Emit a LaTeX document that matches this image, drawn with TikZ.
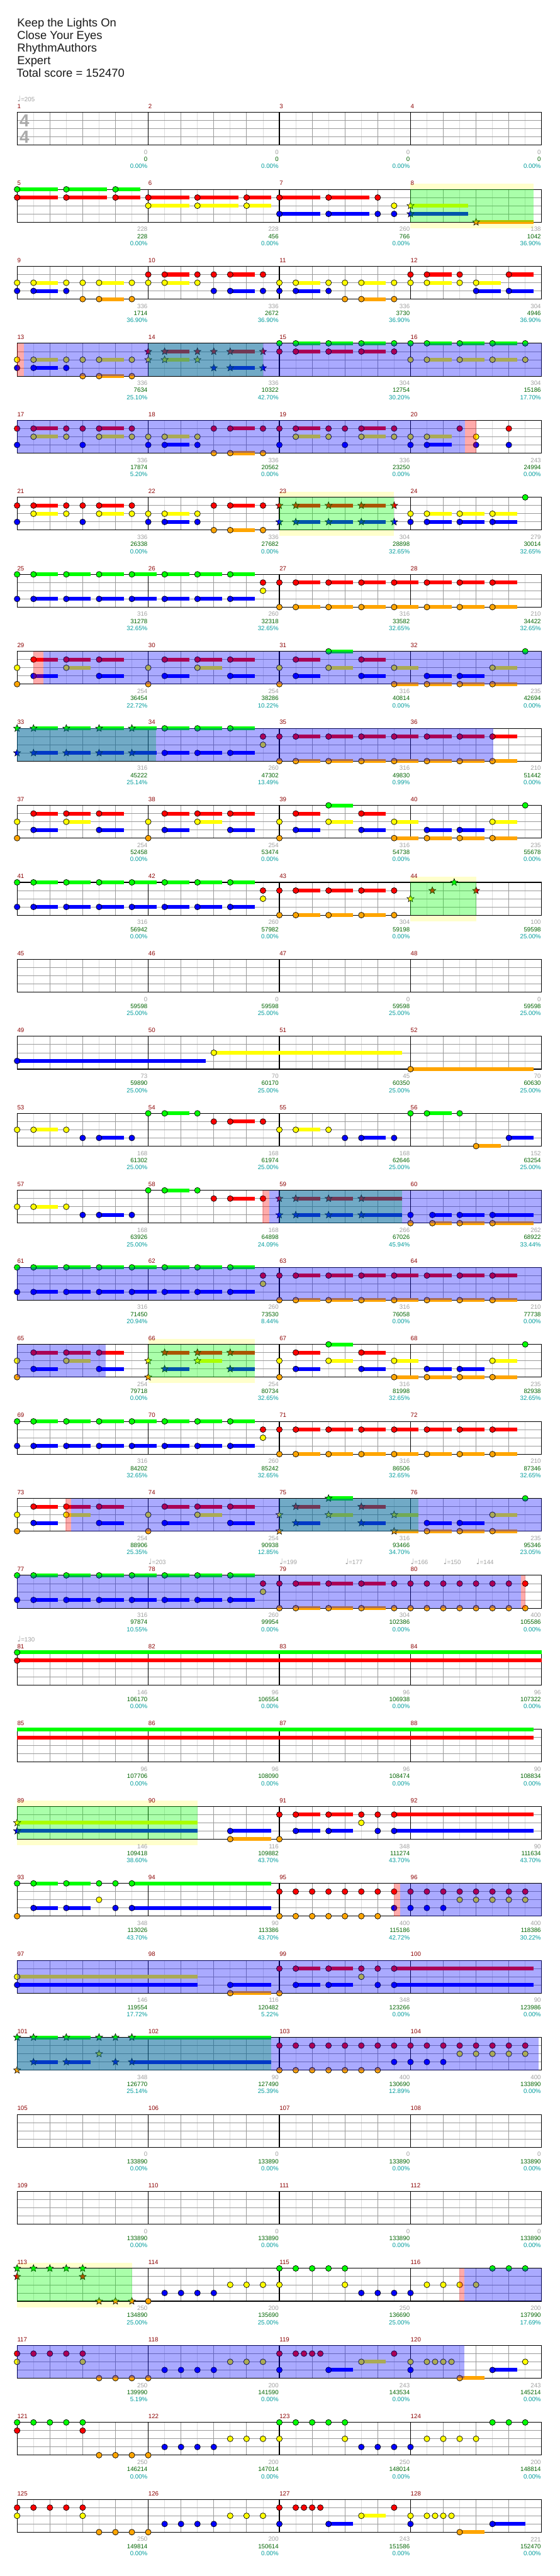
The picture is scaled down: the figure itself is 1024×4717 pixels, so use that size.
\documentclass[tikz,border=0pt]{standalone}
\usepackage{fontspec}
\setmainfont{Liberation Sans}
\newfontfamily\symfont{DejaVu Sans}
\usetikzlibrary{shapes.geometric}

\definecolor{cG}{HTML}{00FF00}
\definecolor{cR}{HTML}{FF0000}
\definecolor{cY}{HTML}{FFFF00}
\definecolor{cB}{HTML}{0000FF}
\definecolor{cO}{HTML}{FFA500}
\definecolor{mred}{HTML}{8B0000}
\definecolor{sgray}{HTML}{A0A0A0}
\definecolor{sgreen}{HTML}{006400}
\definecolor{steal}{HTML}{009C9C}
\definecolor{liteg}{HTML}{DCDCDC}
\definecolor{midg}{HTML}{9A9A9A}
\definecolor{bandy}{HTML}{FFFFCC}
\definecolor{sigg}{HTML}{AAAAAA}

\newcommand\labf{\fontsize{5.6}{6}\selectfont}
\def\lG{0}\def\lR{1}\def\lY{2}\def\lB{3}\def\lO{4}

%% row top, star range
\newcommand\rowtop[3]{\def\rowN{#1}\pgfmathsetmacro\rowT{205.7+141*(#1-1)}\def\stA{#2}\def\stB{#3}}

\newcommand\staff{%
  \fill[white] (31.3,\rowT) rectangle (991.3,{\rowT+60});
  \foreach \e in {1,3,...,31} \draw[lite] ({31.3+30*\e},\rowT) -- ++(0,60);
  \foreach \e in {2,4,6,10,12,14,18,20,22,26,28,30} \draw[beat] ({31.3+30*\e},\rowT) -- ++(0,60);
  \foreach \l in {1,2,3} \draw[beat] (31.3,{\rowT+15*\l}) -- (991.3,{\rowT+15*\l});
  \foreach \e in {8,16,24} \draw[barline] ({31.3+30*\e},\rowT) -- ++(0,60);
  \draw[barline] (31.3,\rowT) rectangle (991.3,{\rowT+60});}

\newcommand\sus[2]{\foreach \e/\sL in {#2}
  \fill[c#1] ({31.3+30*\e},{\rowT+15*\csname l#1\endcsname-3.5}) rectangle ++({30*\sL},7);}

\newcommand\nts[2]{\foreach \e in {#2}{%
  \pgfmathtruncatemacro\isst{and(\e>\stA-0.02,\e<\stB+0.02)}%
  \ifnum\isst=1
    \node[starnote,fill=c#1] at ({31.3+30*\e},{\rowT+15*\csname l#1\endcsname}) {};
  \else
    \node[note,fill=c#1] at ({31.3+30*\e},{\rowT+15*\csname l#1\endcsname}) {};
  \fi}}

\newcommand\band[2]{\fill[bandy] ({31.3+30*#1},{\rowT-10.5}) rectangle ({31.3+30*#2},{\rowT+71});}
\newcommand\phr[2]{\fill[cG,opacity=0.333] ({31.3+30*#1},\rowT) rectangle ({31.3+30*#2},{\rowT+60});}
\newcommand\spr[2]{\fill[cB,opacity=0.333] ({31.3+30*#1},\rowT) rectangle ({31.3+30*#2},{\rowT+60});}
\newcommand\pnk[2]{\fill[cR,opacity=0.333] ({31.3+30*#1},\rowT) rectangle ({31.3+30*#2},{\rowT+60});}

\newcommand\tempo[2]{\node[tmp] at ({31.3+30*#1},{\rowT-25}) {{\symfont\fontsize{7}{7}\selectfont ♩}=#2};}

\newcommand\mlabels[1]{\foreach \va/\vb/\vc [count=\mj from 0] in {#1}{%
  \pgfmathtruncatemacro\mnr{4*\rowN-3+\mj}%
  \node[mnum] (m\mnr) at ({31.3+240*\mj},{\rowT-11}) {\mnr};
  \node[sco] (s\mnr) at ({270.3+240*\mj},{\rowT+73}) {\va};
  \node[tot] (t\mnr) at ({270.3+240*\mj},{\rowT+86}) {\vb};
  \node[pct] (p\mnr) at ({270.3+240*\mj},{\rowT+99}) {\vc\%};}}

%% repeated note patterns
\newcommand\patP{%
  \sus{G}{19/1.5}
  \sus{R}{1/1.5,3/1.5,5/1.5,9/1.5,11/1.5,13/1.5,17/1.5,21/1.5}
  \sus{Y}{3/1.5,11/1.5,19/1.5,23/1.5,29/1.5}
  \sus{B}{1/1.5,5/1.5,9/1.5,13/1.5,17/1.5,21/1.5,25/1.5,27/1.5}
  \sus{O}{23/1.5,25/1.5,27/1.5,29/1.5}
  \nts{G}{19,31}
  \nts{R}{1,3,5,9,11,13,17,21}
  \nts{Y}{0,3,8,11,16,19,23,29}
  \nts{B}{1,5,9,13,17,21,25,27}
  \nts{O}{0,8,16,23,25,27,29}}
\newcommand\patQa{%
  \sus{G}{1/1.5,3/1.5,5/1.5,7/1.5,9/1.5,11/1.5,13/1.5}
  \sus{B}{1/1.5,3/1.5,5/1.5,7/1.5,9/1.5,11/1.5,13/1.5}
  \nts{G}{0,1,3,5,7,9,11,13}
  \nts{B}{0,1,3,5,7,9,11,13}
  \nts{R}{15}\nts{Y}{15}}
\newcommand\patQb{%
  \sus{R}{17/1.5,19/1.5,21/1.5,23/1.5,25/1.5,27/1.5,29/1.5}
  \sus{O}{17/1.5,19/1.5,21/1.5,23/1.5,25/1.5,27/1.5,29/1.5}
  \nts{R}{16,17,19,21,23,25,27,29}
  \nts{O}{16,17,19,21,23,25,27,29}}
\newcommand\patS{%
  \sus{Y}{0/11}
  \sus{B}{0/11,13/2.5,17/1.5,19/1.5,23/8.5}
  \sus{O}{13/2.5}
  \sus{R}{17/1.5,19/1.5,23/8.5}
  \nts{Y}{0,21}
  \nts{B}{0,13,17,19,22,23}
  \nts{O}{13,16}
  \nts{R}{16,17,19,21,22,23}}
\newcommand\patT{%
  \sus{G}{1/1.5,3/1.5,7/8.5}
  \sus{B}{1/1.5,3/1.5,7/8.5}
  \nts{G}{0,1,3,5,6,7}
  \nts{Y}{5,27,28,29,30,31}
  \nts{B}{1,3,6,7,23,24,25,26}
  \nts{O}{0,16,17,18,19,20,21,22}
  \nts{R}{16,17,18,19,20,21,22,23,24,25,26,27,28,29,30,31}}
\newcommand\patU{%
  \nts{G}{0,1,2,3,4,16,17,18,19,20,29,30,31}
  \nts{R}{0,4}
  \nts{O}{5,6,7,8}
  \nts{B}{9,10,11,12,21,22,23,24}
  \nts{Y}{13,14,15,16,20,25,26,27,28}}
\newcommand\patV[1]{%
  \sus{B}{19/1.5,29/#1}
  \sus{Y}{21/1.5}
  \sus{O}{27/1.5}
  \nts{R}{0,1,2,3,4,16,17,17.5,18,18.5,23}
  \nts{Y}{0,4,13,14,15,21,24,25,25.5,26,26.5}
  \nts{O}{5,6,7,8,27}
  \nts{B}{9,10,11,12,16,19,24,29}}

\begin{document}
\begin{tikzpicture}[
  x=0.5pt, y=-0.5pt,
  note/.style={circle, draw=black, line width=0.4pt, inner sep=0pt, minimum size=5.3pt},
  starnote/.style={star, star points=5, star point ratio=2.3, draw=black,
    line width=0.35pt, inner sep=0pt, minimum size=6.8pt},
  lite/.style={liteg, line width=0.5pt},
  beat/.style={midg, line width=0.5pt},
  barline/.style={black, line width=0.6pt},
  mnum/.style={anchor=west, inner sep=0pt, text=mred, font=\labf},
  sco/.style={anchor=east, inner sep=0pt, text=sgray, font=\labf},
  tot/.style={anchor=east, inner sep=0pt, text=sgreen, font=\labf},
  pct/.style={anchor=east, inner sep=0pt, text=steal, font=\labf},
  tmp/.style={anchor=west, inner sep=0pt, text=sgray, font=\labf},
  tsig/.style={inner sep=0pt, text=sigg, font=\fontsize{16}{16}\selectfont\bfseries},
  ttl/.style={anchor=base west, inner sep=0pt, text=black!90, font=\fontsize{10.6}{12}\selectfont},
]
\useasboundingbox (0,0) rectangle (1024,4717);
\fill[white] (0,0) rectangle (1024,4717);

%% Song header
\node[ttl] (song)   at (31,49.3)  {Keep the Lights On};
\node[ttl] (artist) at (31,72.3)  {Close Your Eyes};
\node[ttl] (chart)  at (31,95.3)  {RhythmAuthors};
\node[ttl] (diff)   at (31,118.3) {Expert};
\node[ttl] (total)  at (30,141.3) {Total score = 152470};

%% Row 1: measures 1-4
\rowtop{1}{-9}{-9}
\staff
\node[tsig] (sigtop) at (44.7,220.8) {4};
\node[tsig] (sigbot) at (44.7,250.5) {4};
\tempo{0}{205}
\mlabels{0/0/0.00,0/0/0.00,0/0/0.00,0/0/0.00}

%% Row 2: measures 5-8
\rowtop{2}{24}{31.5}
\band{24}{31.5}
\staff
\sus{G}{0/2.5,3/2.5,6/1.5}
\sus{R}{0/2.5,3/2.5,6/1.5,8/2.5,11/2.5,14/1.5,16/2.5,19/2.5}
\sus{Y}{8/2.5,11/2.5,14/1.5,24/3.5}
\sus{B}{16/2.5,19/2.5,24/3.5}
\sus{O}{28/3.5}
\nts{G}{0,3,6}
\nts{R}{0,3,6,8,11,14,16,19,22}
\nts{Y}{8,11,14,23,24}
\nts{B}{16,19,22,23,24}
\nts{O}{28}
\phr{24}{31.5}
\mlabels{228/228/0.00,228/456/0.00,260/766/0.00,138/1042/36.90}

%% Row 3: measures 9-12
\rowtop{3}{-9}{-9}
\staff
\sus{R}{9/1.5,13/1.5,25/1.5,30/1.5}
\sus{Y}{1/1.5,5/1.5,9/1.5,17/1.5,21/1.5,25/1.5,28/1.5}
\sus{B}{1/1.5,13/1.5,17/1.5,28/1.5,30/1.5}
\sus{O}{5/1.5,21/1.5}
\nts{R}{8,9,11,12,13,15,24,25,27,30}
\nts{Y}{0,1,3,4,5,7,8,9,11,16,17,19,20,21,23,24,25,27,28}
\nts{B}{0,1,3,12,13,15,16,17,19,28,30}
\nts{O}{4,5,7,20,21,23}
\mlabels{336/1714/36.90,336/2672/36.90,336/3730/36.90,304/4946/36.90}

%% Row 4: measures 13-16
\rowtop{4}{8}{15}
\staff
\sus{G}{17/1.5,19/1.5,21/1.5,25/1.5,27/1.5,29/1.5}
\sus{R}{9/1.5,13/1.5,17/1.5,19/1.5,21/1.5}
\sus{Y}{1/1.5,5/1.5,9/1.5,25/1.5,27/1.5,29/1.5}
\sus{B}{1/1.5,13/1.5}
\sus{O}{5/1.5}
\nts{G}{16,17,19,21,23,24,25,27,29,31}
\nts{R}{8,9,11,12,13,15,16,17,19,21,23}
\nts{Y}{0,1,3,4,5,7,8,9,11,24,25,27,29,31}
\nts{B}{0,1,3,12,13,15}
\nts{O}{4,5,7}
\phr{8}{15.01}
\spr{0.41}{32}
\pnk{0}{0.41}
\mlabels{336/7634/25.10,336/10322/42.70,304/12754/30.20,304/15186/17.70}

%% Row 5: measures 17-20
\rowtop{5}{-9}{-9}
\staff
\sus{R}{1/1.5,5/1.5,13/1.5,17/1.5,21/1.5}
\sus{Y}{1/1.5,5/1.5,9/1.5,17/1.5,21/1.5,25/1.5}
\sus{B}{9/1.5,25/1.5}
\sus{O}{13/1.5}
\nts{R}{0,1,3,4,5,7,12,13,15,16,17,19,20,21,23,27,30}
\nts{Y}{1,3,5,7,8,9,11,17,19,21,23,24,25,28}
\nts{B}{0,4,8,9,11,16,20,24,25,28,30}
\nts{O}{12,13,15}
\spr{0}{27.34}
\pnk{27.34}{28}
\mlabels{336/17874/5.20,336/20562/0.00,336/23250/0.00,243/24994/0.00}

%% Row 6: measures 21-24
\rowtop{6}{16}{23}
\band{16}{23}
\staff
\sus{R}{1/1.5,5/1.5,13/1.5,17/1.5,19/1.5,21/1.5}
\sus{Y}{1/1.5,5/1.5,9/1.5,25/1.5,27/1.5,29/1.5}
\sus{B}{9/1.5,17/1.5,19/1.5,21/1.5,25/1.5,27/1.5,29/1.5}
\sus{O}{13/1.5}
\nts{G}{31}
\nts{R}{0,1,3,4,5,7,12,13,15,16,17,19,21,23}
\nts{Y}{1,3,5,7,8,9,11,24,25,27,29}
\nts{B}{0,4,8,9,11,16,17,19,21,23,24,25,27,29}
\nts{O}{12,13,15}
\phr{16}{23}
\mlabels{336/26338/0.00,336/27682/0.00,304/28898/32.65,279/30014/32.65}

%% Row 7: measures 25-28
\rowtop{7}{-9}{-9}
\staff
\patQa
\patQb
\mlabels{316/31278/32.65,260/32318/32.65,316/33582/32.65,210/34422/32.65}

%% Row 8: measures 29-32
\rowtop{8}{-9}{-9}
\staff
\patP
\pnk{1}{1.61}
\spr{1.61}{32}
\mlabels{254/36454/22.72,254/38286/10.22,316/40814/0.00,235/42694/0.00}

%% Row 9: measures 33-36
\rowtop{9}{0}{8.47}
\staff
\patQa
\patQb
\phr{0}{8.47}
\spr{0}{29.06}
\mlabels{316/45222/25.14,260/47302/13.49,316/49830/0.99,210/51442/0.00}

%% Row 10: measures 37-40
\rowtop{10}{-9}{-9}
\staff
\patP
\mlabels{254/52458/0.00,254/53474/0.00,316/54738/0.00,235/55678/0.00}

%% Row 11: measures 41-44
\rowtop{11}{24}{28}
\band{24}{28}
\staff
\patQa
\sus{R}{17/1.5,19/1.5,21/1.5}
\sus{O}{17/1.5,19/1.5,21/1.5}
\nts{R}{16,17,19,21,23,25.333,28}
\nts{O}{16,17,19,21,23}
\nts{Y}{24}
\nts{G}{26.667}
\phr{24}{28}
\mlabels{316/56942/0.00,260/57982/0.00,304/59198/0.00,100/59598/25.00}

%% Row 12: measures 45-48
\rowtop{12}{-9}{-9}
\staff
\mlabels{0/59598/25.00,0/59598/25.00,0/59598/25.00,0/59598/25.00}

%% Row 13: measures 49-52
\rowtop{13}{-9}{-9}
\staff
\sus{B}{0/11.5}
\sus{Y}{12/11.5}
\sus{O}{24/7.5}
\nts{B}{0}
\nts{Y}{12}
\nts{O}{24}
\mlabels{73/59890/25.00,70/60170/25.00,45/60350/25.00,70/60630/25.00}

%% Row 14: measures 53-56
\rowtop{14}{-9}{-9}
\staff
\sus{Y}{1/1.5,17/1.5}
\sus{B}{5/1.5,21/1.5,30/1.5}
\sus{G}{9/1.5,25/1.5}
\sus{R}{13/1.5}
\sus{O}{28/1.5}
\nts{Y}{0,1,3,16,17,19}
\nts{B}{4,5,7,20,21,23,30}
\nts{G}{8,9,11,24,25,27}
\nts{R}{12,13,15}
\nts{O}{28}
\mlabels{168/61302/25.00,168/61974/25.00,168/62646/25.00,152/63254/25.00}

%% Row 15: measures 57-60
\rowtop{15}{16}{23.49}
\staff
\sus{Y}{1/1.5}
\sus{B}{5/1.5,17/1.5,19/1.5,21/2.5,25.333/1.167,27/1.5,29/2.5}
\sus{G}{9/1.5}
\sus{R}{13/1.5,17/1.5,19/1.5,21/2.5}
\sus{O}{25.333/1.167,27/1.5,29/2.5}
\nts{Y}{0,1,3}
\nts{B}{4,5,7,16,17,19,21,24,25.333,27,29}
\nts{G}{8,9,11}
\nts{R}{12,13,15,16,17,19,21}
\nts{O}{24,25.333,27,29}
\phr{16}{23.49}
\spr{15.39}{32}
\pnk{14.95}{15.39}
\mlabels{168/63926/25.00,168/64898/24.09,266/67026/45.94,262/68922/33.44}

%% Row 16: measures 61-64
\rowtop{16}{-9}{-9}
\staff
\patQa
\patQb
\spr{0}{32}
\mlabels{316/71450/20.94,260/73530/8.44,316/76058/0.00,210/77738/0.00}

%% Row 17: measures 65-68
\rowtop{17}{8}{14.5}
\band{8}{14.5}
\staff
\patP
\phr{8}{14.5}
\spr{0}{5.4}
\mlabels{254/79718/0.00,254/80734/32.65,316/81998/32.65,235/82938/32.65}

%% Row 18: measures 69-72
\rowtop{18}{-9}{-9}
\staff
\patQa
\patQb
\mlabels{316/84202/32.65,260/85242/32.65,316/86506/32.65,210/87346/32.65}

%% Row 19: measures 73-76
\rowtop{19}{16}{24.49}
\staff
\patP
\phr{16}{24.49}
\spr{3.29}{32}
\pnk{2.96}{3.29}
\mlabels{254/88906/25.35,254/90938/12.85,316/93466/34.70,235/95346/23.05}

%% Row 20: measures 77-80
\rowtop{20}{-9}{-9}
\staff
\patQa
\sus{R}{17/1.5,19/1.5,21/1.5}
\sus{O}{17/1.5,19/1.5,21/1.5}
\nts{R}{16,17,19,21,23,24,25,26,27,28,29,30,31}
\nts{O}{16,17,19,21,23,24,25,26,27,28,29,30,31}
\spr{0}{30.74}
\pnk{30.74}{31}
\tempo{8}{203}
\tempo{16}{199}
\tempo{20}{177}
\tempo{24}{166}
\tempo{26}{150}
\tempo{28}{144}
\mlabels{316/97874/10.55,260/99954/0.00,304/102386/0.00,400/105586/0.00}

%% Row 21: measures 81-84
\rowtop{21}{-9}{-9}
\staff
\sus{G}{0/32}
\sus{R}{0/32}
\nts{G}{0}
\nts{R}{0}
\tempo{0}{130}
\mlabels{146/106170/0.00,96/106554/0.00,96/106938/0.00,96/107322/0.00}

%% Row 22: measures 85-88
\rowtop{22}{-9}{-9}
\staff
\sus{G}{0/31.5}
\sus{R}{0/31.5}
\mlabels{96/107706/0.00,96/108090/0.00,96/108474/0.00,90/108834/0.00}

%% Row 23: measures 89-92
\rowtop{23}{0}{11}
\band{0}{11}
\staff
\patS
\phr{0}{11}
\mlabels{146/109418/38.60,116/109882/43.70,348/111274/43.70,90/111634/43.70}

%% Row 24: measures 93-96
\rowtop{24}{-9}{-9}
\staff
\patT
\pnk{22.99}{23.36}
\spr{23.36}{32}
\mlabels{348/113026/43.70,90/113386/43.70,400/115186/42.72,400/118386/30.22}

%% Row 25: measures 97-100
\rowtop{25}{-9}{-9}
\staff
\patS
\spr{0}{32}
\mlabels{146/119554/17.72,116/120482/5.22,348/123266/0.00,90/123986/0.00}

%% Row 26: measures 101-104
\rowtop{26}{0}{15.5}
\staff
\patT
\phr{0}{15.5}
\spr{0}{31.83}
\mlabels{348/126770/25.14,90/127490/25.39,400/130690/12.89,400/133890/0.00}

%% Row 27: measures 105-108
\rowtop{27}{-9}{-9}
\staff
\mlabels{0/133890/0.00,0/133890/0.00,0/133890/0.00,0/133890/0.00}

%% Row 28: measures 109-112
\rowtop{28}{-9}{-9}
\staff
\mlabels{0/133890/0.00,0/133890/0.00,0/133890/0.00,0/133890/0.00}

%% Row 29: measures 113-116
\rowtop{29}{0}{7}
\band{0}{7}
\staff
\patU
\phr{0}{7}
\pnk{26.99}{27.3}
\spr{27.3}{32}
\mlabels{250/134890/25.00,200/135690/25.00,250/136690/25.00,200/137990/17.69}

%% Row 30: measures 117-120
\rowtop{30}{-9}{-9}
\staff
\patV{1.5}
\nts{Y}{31}
\spr{0}{27.3}
\mlabels{250/139990/5.19,200/141590/0.00,243/143534/0.00,243/145214/0.00}

%% Row 31: measures 121-124
\rowtop{31}{-9}{-9}
\staff
\patU
\mlabels{250/146214/0.00,200/147014/0.00,250/148014/0.00,200/148814/0.00}

%% Row 32: measures 125-128
\rowtop{32}{-9}{-9}
\staff
\patV{2}
\mlabels{250/149814/0.00,200/150614/0.00,243/151586/0.00,221/152470/0.00}
\end{tikzpicture}
\end{document}
